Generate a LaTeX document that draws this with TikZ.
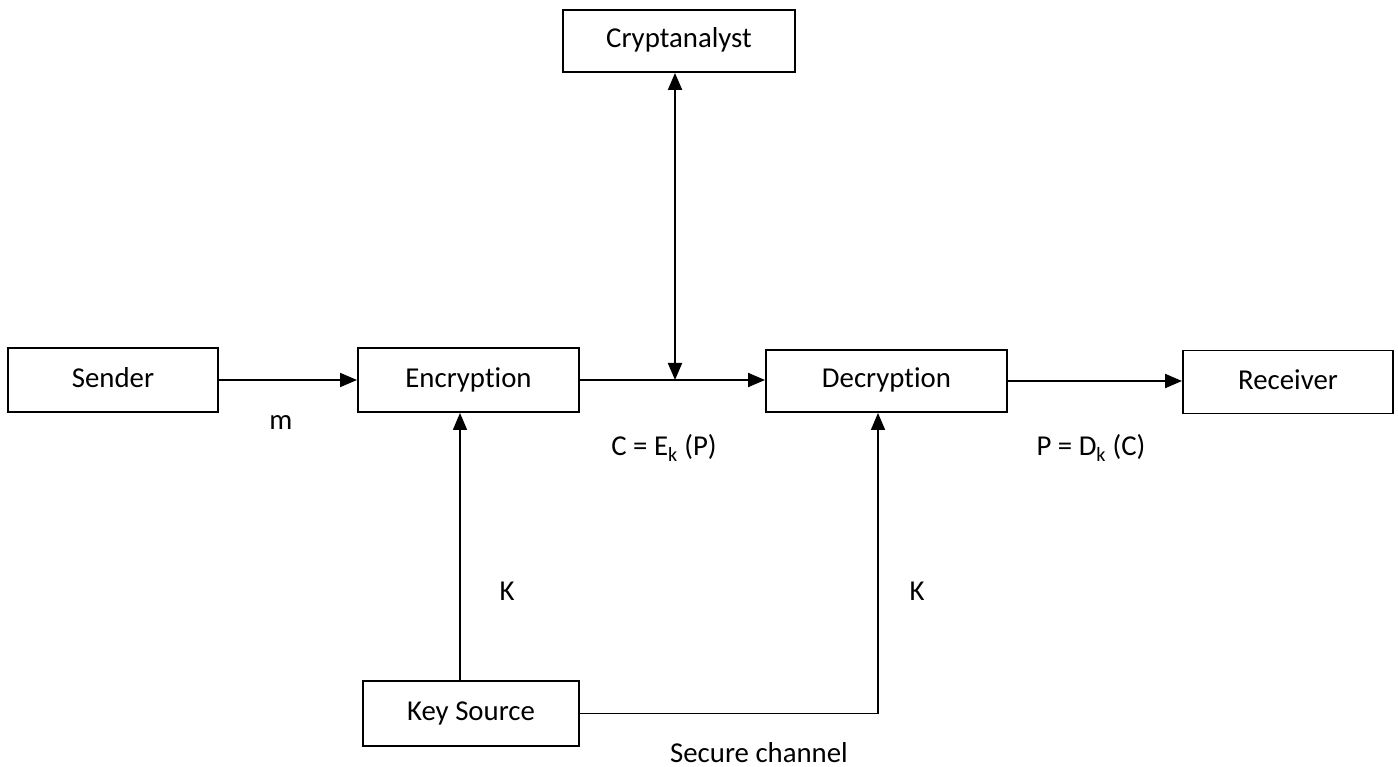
\documentclass[tikz,border=0pt]{standalone}
\usepackage{fontspec}
\setmainfont{Carlito}[Ligatures=NoCommon]
\usetikzlibrary{arrows.meta}
\begin{document}
\begin{tikzpicture}[x=1pt,y=-1pt,
  font=\fontsize{28.8}{34}\selectfont,
  block/.style={draw=black, line width=1.9pt, rectangle, inner sep=0pt,
    text height=21pt, text depth=7pt},
  flow/.style={line width=1.9pt, -{Triangle[length=17pt,width=14pt]}},
  keyflow/.style={line width=1.6pt, -{Triangle[length=17pt,width=14pt]}},
  lbl/.style={inner sep=0pt}]
  \useasboundingbox (0,0) rectangle (1398,767);

  % main blocks
  \node[block, minimum width=210pt, minimum height=64pt] (sender) at (113,380) {Sender};
  \node[block, minimum width=221pt, minimum height=64pt] (enc) at (468.5,380) {Encryption};
  \node[block, minimum width=241pt, minimum height=62pt] (dec) at (886.5,381) {Decryption};
  \node[block, minimum width=210pt, minimum height=63pt] (recv) at (1288,382) {Receiver};
  \node[block, minimum width=232pt, minimum height=62pt] (crypt) at (679,41) {Cryptanalyst};
  \node[block, minimum width=216pt, minimum height=65pt, line width=1.6pt] (keys) at (471,713.5) {Key Source};

  % tap points on the channel and key lines
  \coordinate (tap) at (675,380);
  \coordinate (kenc) at (460,0);
  \coordinate (kdec) at (878,0);

  % message path
  \draw[flow] (sender.east) -- (enc.west);
  \draw[flow] (enc.east) -- (enc.east -| dec.west);
  \draw[flow] (dec.east) -- (dec.east -| recv.west);

  % interception by the cryptanalyst
  \draw[line width=1.9pt, {Triangle[length=17pt,width=14pt]}-{Triangle[length=17pt,width=14pt]}]
    (crypt.south -| tap) -- (tap);

  % key distribution
  \draw[keyflow] (keys.north -| kenc) -- (enc.south -| kenc);
  \draw[keyflow] (keys.east) -- (keys.east -| kdec) -- (dec.south -| kdec);

  % labels
  \node[lbl] (lm) at (281,423) {m};
  \node[lbl] (lc) at (664,448) {C = E\textsubscript{k} (P)};
  \node[lbl] (lp) at (1091,448) {P = D\textsubscript{k} (C)};
  \node[lbl] (lk1) at (507,591) {K};
  \node[lbl] (lk2) at (917,591) {K};
  \node[lbl, anchor=base] (lsec) at (759,762) {Secure channel};
\end{tikzpicture}
\end{document}
